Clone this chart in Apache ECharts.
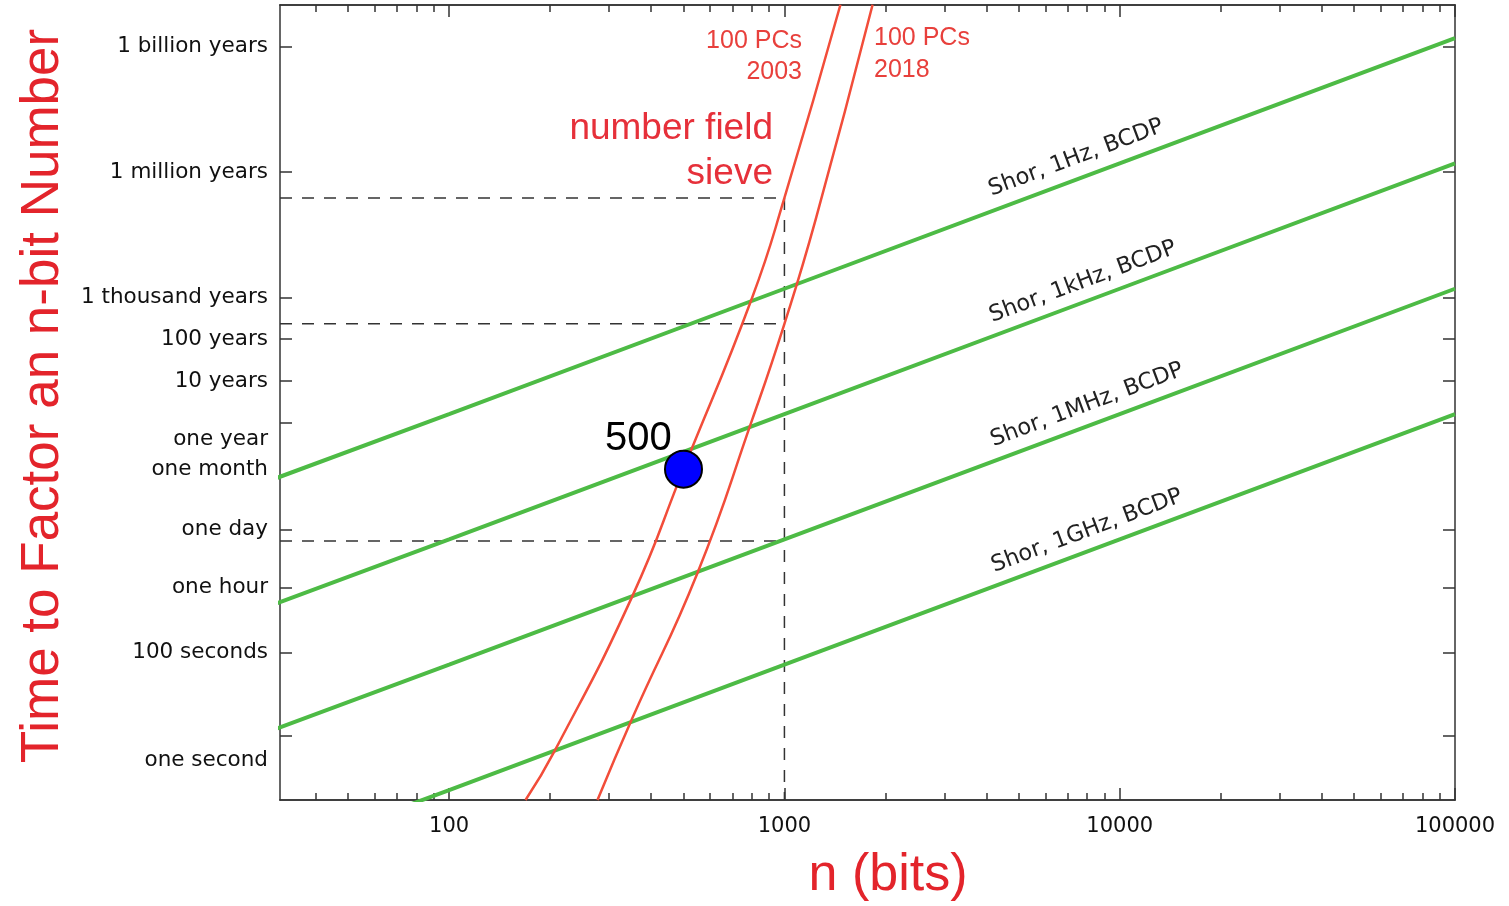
<!DOCTYPE html>
<html>
<head>
<meta charset="utf-8">
<script src="https://cdn.jsdelivr.net/npm/echarts@6/dist/echarts.min.js"></script>
<style>
html,body{margin:0;padding:0;background:#fff;}
#chart{width:1509px;height:906px;}
</style>
</head>
<body>
<div id="chart"></div>
<script>
// ---------- data ----------
// x: number of bits n ; y: time in seconds
const xMajorTicks = [100, 1000, 10000, 100000];
const xMajorLabels = ['100', '1000', '10000', '100000'];
const xMinorTicks = [40, 50, 60, 70, 80, 90, 200, 300, 400, 500, 600, 700, 800, 900,
  2000, 3000, 4000, 5000, 6000, 7000, 8000, 9000,
  20000, 30000, 40000, 50000, 60000, 70000, 80000, 90000];
const xRange = [31.3, 100000];
const yRange = [0.0295, 3.16e17];

// tick marks (seconds)
const yTickSeconds = [3.156e16, 3.156e13, 3.156e10, 3.156e9, 3.156e8, 3.156e7, 86400, 3600, 100, 1];
// tick labels (name, seconds position of label)
const yLabelNames = ['1 billion years', '1 million years', '1 thousand years', '100 years', '10 years',
  'one year', 'one month', 'one day', 'one hour', '100 seconds', 'one second'];
const yLabelSeconds = [3.156e16, 3.156e13, 3.156e10, 3.156e9, 3.156e8,
  1.23e7, 2.45e6, 86400, 3600, 100, 0.266];

// Shor's algorithm lines
const shorN = [30, 100, 1000, 10000, 100000];
const shor1Hz  = [1.42e6, 5.1e7, 5.1e10, 5.1e13, 5.1e16];
const shor1kHz = [1.42e3, 5.1e4, 5.1e7, 5.1e10, 5.1e13];
const shor1MHz = [1.42, 51, 5.1e4, 5.1e7, 5.1e10];
const shor1GHz = [1.42e-3, 0.051, 51, 5.1e4, 5.1e7];
const shorNames = ['Shor, 1Hz, BCDP', 'Shor, 1kHz, BCDP', 'Shor, 1MHz, BCDP', 'Shor, 1GHz, BCDP'];

// Number field sieve curves
const nfs2003N = [169, 207, 352, 500, 801, 1000, 1469];
const nfs2003T = [0.0295, 0.46, 2240, 2.45e6, 3.1e10, 7.6e12, 3.2e17];
const nfs2018N = [277, 352, 550, 801, 1000, 1239, 1832];
const nfs2018T = [0.0295, 2.7, 7900, 3.7e7, 7.4e9, 2.3e12, 3.2e17];

// dashed reference lines
const refN = 1000;
const refTimes = [7.6e12, 7.4e9, 4.7e4];

// highlighted point
const pointN = 500;
const pointT = 2.45e6;
const pointLabel = '500';

// ---------- chart ----------
const L = Math.log10;
const pairs = (ns, ts) => ns.map((n, i) => [L(n), L(ts[i])]);
const xMin = L(xRange[0]), xMax = L(xRange[1]);
const yMin = L(yRange[0]), yMax = L(yRange[1]);
const xMajorVals = xMajorTicks.map(L);
const xMinorVals = xMinorTicks.map(L);
const yTickVals = yTickSeconds.map(L);
const yLabelVals = yLabelSeconds.map(L);

const axisColor = '#333';
const tickFont = 'DejaVu Sans';
const tickColor = '#111';

function xAx(position, ticks, len, showLabel) {
  return {
    type: 'value', position: position, min: xMin, max: xMax,
    axisLine: {show: true, onZero: false, lineStyle: {color: axisColor, width: 1.5}},
    axisTick: {show: true, inside: true, length: len, customValues: ticks, lineStyle: {color: axisColor, width: 1.5}},
    axisLabel: showLabel ? {
      show: true, customValues: xMajorVals, margin: 16, fontFamily: tickFont, fontSize: 21, color: tickColor,
      formatter: v => { const i = xMajorVals.findIndex(p => Math.abs(p - v) < 1e-9); return i >= 0 ? xMajorLabels[i] : ''; }
    } : {show: false},
    splitLine: {show: false}
  };
}
function yAx(position, showLabel) {
  return {
    type: 'value', position: position, min: yMin, max: yMax,
    axisLine: {show: true, onZero: false, lineStyle: {color: axisColor, width: 1.5}},
    axisTick: {show: true, inside: true, length: 12, customValues: yTickVals, lineStyle: {color: axisColor, width: 1.5}},
    axisLabel: showLabel ? {
      show: true, customValues: yLabelVals, margin: 12, fontFamily: tickFont, fontSize: 21.5, color: tickColor,
      formatter: v => { const i = yLabelVals.findIndex(p => Math.abs(p - v) < 1e-9); return i >= 0 ? yLabelNames[i] : ''; }
    } : {show: false},
    splitLine: {show: false}
  };
}

const green = '#4dbb45';
const red = '#f24d3a';
const dash = {color: '#333', width: 1.5, type: [12, 10]};

const series = [];
refTimes.forEach(t => {
  series.push({type: 'line', data: [[xMin, L(t)], [L(refN), L(t)]], showSymbol: false, silent: true,
    lineStyle: dash, z: 1});
});
series.push({type: 'line', data: [[L(refN), L(refTimes[0])], [L(refN), yMin]], showSymbol: false, silent: true,
  lineStyle: dash, z: 1});
[shor1Hz, shor1kHz, shor1MHz, shor1GHz].forEach((arr, k) => {
  series.push({type: 'line', name: shorNames[k], data: pairs(shorN, arr), showSymbol: false,
    lineStyle: {color: green, width: 4}, z: 2});
});
series.push({type: 'line', name: 'NFS 2003', data: pairs(nfs2003N, nfs2003T), smooth: 0.5,
  showSymbol: false, lineStyle: {color: red, width: 2.5}, z: 3});
series.push({type: 'line', name: 'NFS 2018', data: pairs(nfs2018N, nfs2018T), smooth: 0.5,
  showSymbol: false, lineStyle: {color: red, width: 2.5}, z: 3});
series.push({type: 'scatter', data: [[L(pointN), L(pointT)]], symbol: 'circle', symbolSize: 37,
  itemStyle: {color: '#0000ff', borderColor: '#000', borderWidth: 2, opacity: 1}, z: 5,
  label: {show: true, formatter: pointLabel, position: 'inside', offset: [-45, -30],
    fontFamily: 'Liberation Sans', fontSize: 40, color: '#000'}});

const deg = Math.PI / 180;
const rot = 20.5 * deg;
function txt(text, x, y, opts) {
  return Object.assign({type: 'text', x: x, y: y, silent: true, z: 100,
    style: Object.assign({text: text, x: 0, y: 0, align: 'center', verticalAlign: 'middle'}, opts.style)},
    opts.rotation ? {rotation: opts.rotation} : {});
}
const shorLabelPos = [[1076, 158], [1083, 282], [1087, 405], [1087, 531]];
const graphics = [
  txt('n (bits)', 888, 876, {style: {fontFamily: 'Liberation Sans', fontSize: 52, fill: '#e3242b'}}),
  txt('Time to Factor an n-bit Number', 43, 396, {rotation: Math.PI / 2,
    style: {fontFamily: 'Liberation Sans', fontSize: 53, fill: '#e3242b'}}),
  txt('100 PCs', 802, 41, {style: {fontFamily: 'Liberation Sans', fontSize: 25, fill: '#e8403c', align: 'right'}}),
  txt('2003', 802, 72, {style: {fontFamily: 'Liberation Sans', fontSize: 25, fill: '#e8403c', align: 'right'}}),
  txt('100 PCs', 874, 38, {style: {fontFamily: 'Liberation Sans', fontSize: 25, fill: '#e8403c', align: 'left'}}),
  txt('2018', 874, 70, {style: {fontFamily: 'Liberation Sans', fontSize: 25, fill: '#e8403c', align: 'left'}}),
  txt('number field', 773, 129, {style: {fontFamily: 'Liberation Sans', fontSize: 37, fill: '#e6303a', align: 'right'}}),
  txt('sieve', 773, 174, {style: {fontFamily: 'Liberation Sans', fontSize: 37, fill: '#e6303a', align: 'right'}})
];
shorNames.forEach((s, i) => {
  graphics.push(txt(s, shorLabelPos[i][0], shorLabelPos[i][1], {rotation: rot,
    style: {fontFamily: tickFont, fontSize: 22.5, fill: '#222'}}));
});

const chart = echarts.init(document.getElementById('chart'), null, {renderer: 'canvas'});
chart.setOption({
  animation: false,
  backgroundColor: '#fff',
  grid: {left: 280, right: 54, top: 5, bottom: 106, containLabel: false, outerBoundsMode: 'none'},
  xAxis: [xAx('bottom', xMajorVals, 12, true), xAx('bottom', xMinorVals, 7, false),
          xAx('top', xMajorVals, 12, false), xAx('top', xMinorVals, 7, false)],
  yAxis: [yAx('left', true), yAx('right', false)],
  series: series,
  graphic: graphics
});
</script>
</body>
</html>
